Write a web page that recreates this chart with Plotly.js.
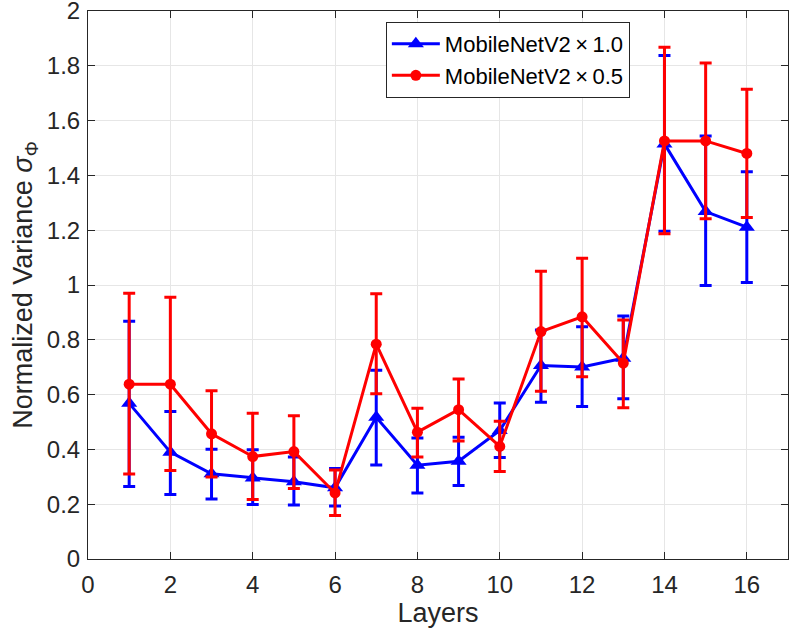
<!DOCTYPE html>
<html>
<head>
<meta charset="utf-8">
<script src="https://cdn.plot.ly/plotly-3.0.1.min.js"></script>
<style>
  html, body { margin: 0; padding: 0; background: #fff; }
  #plot { width: 789px; height: 634px; }
</style>
</head>
<body>
<div id="plot"></div>
<script>
// layer index on the x axis
var layers = [1, 2, 3, 4, 5, 6, 7, 8, 9, 10, 11, 12, 13, 14, 15, 16];

// MobileNetV2 x1.0 : mean and error bar ends
var meanFull  = [0.568, 0.390, 0.311, 0.296, 0.282, 0.260, 0.517, 0.342, 0.357, 0.469, 0.706, 0.701, 0.733, 1.515, 1.268, 1.211];
var upperFull = [0.868, 0.538, 0.401, 0.399, 0.372, 0.330, 0.689, 0.442, 0.444, 0.569, 0.836, 0.848, 0.887, 1.838, 1.544, 1.413];
var lowerFull = [0.265, 0.235, 0.219, 0.199, 0.197, 0.193, 0.343, 0.241, 0.268, 0.370, 0.572, 0.557, 0.585, 1.196, 0.998, 1.009];

// MobileNetV2 x0.5 : mean and error bar ends
var meanHalf  = [0.638, 0.638, 0.457, 0.374, 0.392, 0.241, 0.784, 0.463, 0.545, 0.411, 0.830, 0.884, 0.715, 1.526, 1.526, 1.480];
var upperHalf = [0.970, 0.955, 0.614, 0.532, 0.523, 0.325, 0.968, 0.550, 0.657, 0.503, 1.050, 1.098, 0.872, 1.868, 1.810, 1.714];
var lowerHalf = [0.310, 0.323, 0.299, 0.217, 0.257, 0.159, 0.603, 0.372, 0.431, 0.319, 0.612, 0.665, 0.552, 1.187, 1.242, 1.246];

var xTicks = [0, 2, 4, 6, 8, 10, 12, 14, 16];
var yTicks = [0, 0.2, 0.4, 0.6, 0.8, 1, 1.2, 1.4, 1.6, 1.8, 2];
var yTickText = ["0", "0.2", "0.4", "0.6", "0.8", "1", "1.2", "1.4", "1.6", "1.8", "2"];

var textColor = "#262626";
var fontFamily = "Liberation Sans, Arial, sans-serif";

// turn the bar ends into plus / minus lengths for plotly
function errorBar(mean, upper, lower, color) {
    return {
        type: "data",
        symmetric: false,
        array: upper.map((u, i) => u - mean[i]),
        arrayminus: lower.map((l, i) => mean[i] - l),
        color: color,
        thickness: 3,
        width: 6
    };
}

var data = [
    {
        x: layers,
        y: meanFull,
        name: "MobileNetV2\u2009×\u20091.0",
        type: "scatter",
        mode: "lines+markers",
        line: {color: "#0000ff", width: 3},
        marker: {symbol: "triangle-up", size: 14, color: "#0000ff"},
        error_y: errorBar(meanFull, upperFull, lowerFull, "#0000ff")
    },
    {
        x: layers,
        y: meanHalf,
        name: "MobileNetV2\u2009×\u20090.5",
        type: "scatter",
        mode: "lines+markers",
        line: {color: "#ff0000", width: 3},
        marker: {symbol: "circle", size: 11, color: "#ff0000"},
        error_y: errorBar(meanHalf, upperHalf, lowerHalf, "#ff0000")
    }
];

var axisCommon = {
    showline: true,
    linecolor: textColor,
    linewidth: 1,
    mirror: "ticks",
    ticks: "inside",
    ticklen: 7,
    tickcolor: textColor,
    showgrid: true,
    gridcolor: "#e6e6e6",
    gridwidth: 1,
    zeroline: false,
    ticklabeloverflow: "allow",
    tickfont: {family: fontFamily, size: 24, color: textColor}
};

var layout = {
    width: 789,
    height: 634,
    margin: {l: 88, r: 1, t: 11, b: 75},
    paper_bgcolor: "#ffffff",
    plot_bgcolor: "#ffffff",
    font: {family: fontFamily, color: textColor},
    xaxis: Object.assign({}, axisCommon, {
        range: [0, 17],
        tickvals: xTicks,
        ticklabelstandoff: 4,
        title: {text: "Layers", font: {family: fontFamily, size: 27, color: textColor}, standoff: 4}
    }),
    yaxis: Object.assign({}, axisCommon, {
        range: [0, 2],
        tickvals: yTicks,
        ticktext: yTickText,
        ticklabelstandoff: 2,
        title: {text: "Normalized Variance <i>σ</i><sub>Φ</sub>", font: {family: fontFamily, size: 27, color: textColor}, standoff: 6}
    }),
    legend: {
        x: 0.4255,
        y: 0.98,
        xanchor: "left",
        yanchor: "top",
        bgcolor: "#ffffff",
        bordercolor: textColor,
        borderwidth: 1,
        font: {family: fontFamily, size: 22, color: "#000000"},
        tracegroupgap: 0,
        itemwidth: 48
    },
    showlegend: true
};

Plotly.newPlot("plot", data, layout, {displayModeBar: false, staticPlot: true});
</script>
</body>
</html>
